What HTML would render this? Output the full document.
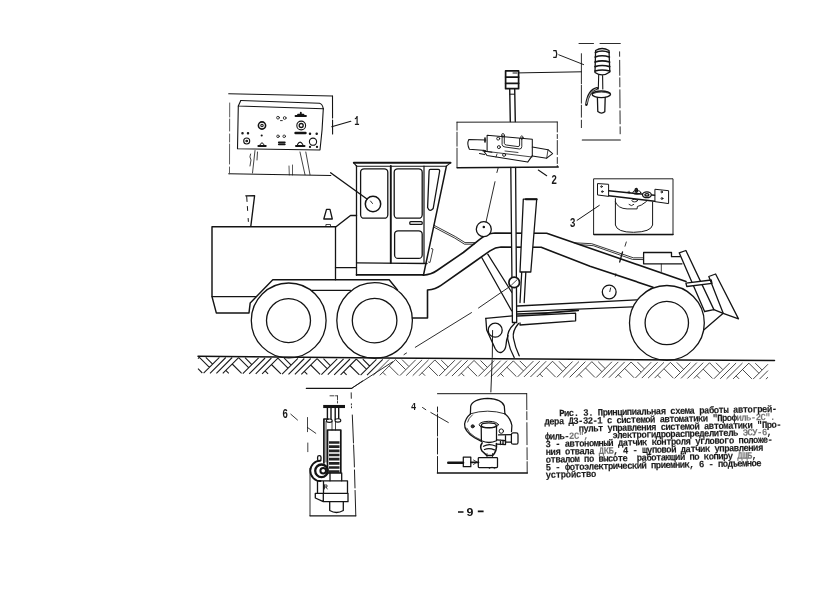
<!DOCTYPE html>
<html><head><meta charset="utf-8">
<style>
html,body{margin:0;padding:0;background:#fff;}
body{width:840px;height:590px;overflow:hidden;position:relative;font-family:"Liberation Mono",monospace;}
svg{position:absolute;left:0;top:0;display:block}
text{font-family:"Liberation Mono",monospace;fill:#1a1a1a;stroke:none}
.lbl{font-family:"Liberation Sans",sans-serif;font-size:10.5px;fill:#111}
</style></head>
<body>
<svg width="840" height="590" viewBox="0 0 840 590" style="will-change:transform">
<g fill="none" stroke="#141414" stroke-width="1.3" stroke-linecap="round" stroke-linejoin="round">

<!-- ===== GROUND ===== -->
<path d="M198 356.3 L330 357.5 L540 359.1 L774.5 360.5" stroke-width="1.5" stroke="#111"/>
<path stroke-width="1.1" stroke="#1c1c1c" stroke-linecap="butt" d="M198.0 358.6 L199.3 357.2 M199.4 357.3 L209.4 367.3 M198.0 368.7 L202.3 373.0 M205.8 357.3 L212.6 364.1 M203.6 373.2 L219.4 357.4 M210.0 373.3 L225.8 357.5 M216.4 373.3 L232.2 357.5 M222.8 373.4 L238.6 357.6 M238.6 357.7 L248.6 367.7 M232.2 364.0 L241.6 373.4 M225.8 370.4 L228.8 373.4 M245.0 357.7 L251.8 364.6 M242.8 373.7 L258.6 357.9 M249.2 373.8 L265.1 358.0 M255.7 373.8 L271.4 358.0 M262.1 373.9 L277.9 358.1 M277.9 358.2 L287.9 368.2 M271.4 364.5 L280.9 373.9 M265.1 370.8 L268.1 373.8 M284.2 358.2 L291.1 365.1 M282.1 374.2 L297.9 358.4 M288.5 374.3 L304.3 358.5 M294.9 374.3 L310.7 358.5 M301.3 374.4 L317.1 358.6 M317.1 358.7 L327.1 368.7 M310.7 365.0 L320.1 374.4 M304.3 371.3 L307.3 374.3 M323.5 358.7 L330.3 365.6 M321.4 374.7 L337.2 358.9 M327.8 374.7 L343.6 358.9 M334.2 374.8 L350.0 359.0 M340.6 374.8 L356.4 359.0 M356.4 359.1 L366.4 369.2 M349.9 365.5 L359.4 374.9 M343.6 371.8 L346.6 374.8 M362.8 359.2 L369.6 366.0 M360.6 375.1 L376.4 359.3 M367.0 375.2 L382.8 359.4"/>
<path stroke-width="0.85" stroke="#2a2a2a" stroke-linecap="butt" d="M373.4 375.2 L389.2 359.4 M379.8 375.3 L395.6 359.5 M395.6 359.6 L405.6 369.6 M389.2 365.9 L398.6 375.3 M382.8 372.3 L385.8 375.3 M402.0 359.6 L408.8 366.4 M399.9 375.6 L415.7 359.8 M406.2 375.6 L422.1 359.8 M412.7 375.7 L428.5 359.9 M419.1 375.7 L434.9 359.9 M434.9 360.0 L444.9 370.0 M428.4 366.4 L437.9 375.8 M422.1 372.7 L425.1 375.7 M441.2 360.1 L448.1 366.9 M439.1 376.0 L454.9 360.2 M445.5 376.1 L461.3 360.3 M451.9 376.1 L467.7 360.3 M458.3 376.2 L474.1 360.4 M474.1 360.5 L484.1 370.5 M467.7 366.8 L477.1 376.2 M461.3 373.1 L464.3 376.1 M480.5 360.5 L487.3 367.3 M478.4 376.4 L494.2 360.6 M484.8 376.5 L500.6 360.7 M491.2 376.5 L507.0 360.7 M497.6 376.6 L513.4 360.8 M513.4 360.9 L523.4 370.9 M506.9 367.2 L516.4 376.6 M500.6 373.6 L503.6 376.6 M519.8 360.9 L526.6 367.7 M517.6 376.9 L533.4 361.1 M524.0 376.9 L539.8 361.1 M530.4 377.0 L546.2 361.2 M536.8 377.0 L552.6 361.2 M552.6 361.3 L562.6 371.3 M546.2 367.7 L555.6 377.1 M539.8 374.0 L542.8 377.0 M559.0 361.3 L565.8 368.1 M556.9 377.3 L572.6 361.5 M563.2 377.3 L579.0 361.5 M569.6 377.4 L585.4 361.6 M576.1 377.4 L591.9 361.6 M591.9 361.7 L601.9 371.7 M585.5 368.0 L594.9 377.4 M579.1 374.4 L582.1 377.4 M598.2 361.7 L605.1 368.5 M596.1 377.6 L611.9 361.8 M602.5 377.7 L618.3 361.9 M608.9 377.7 L624.7 361.9 M615.3 377.8 L631.1 362.0 M631.1 362.0 L641.1 372.1 M624.7 368.4 L634.1 377.8 M618.3 374.7 L621.3 377.7 M637.5 362.1 L644.3 368.9 M635.4 378.0 L651.2 362.2 M641.8 378.1 L657.6 362.3 M648.1 378.1 L664.0 362.3 M654.6 378.1 L670.4 362.3 M670.4 362.4 L680.4 372.4 M664.0 368.8 L673.4 378.2 M657.6 375.1 L660.6 378.1 M676.8 362.4 L683.6 369.3 M674.6 378.4 L690.4 362.6 M681.0 378.4 L696.8 362.6 M687.4 378.5 L703.2 362.7 M693.8 378.5 L709.6 362.7 M709.6 362.8 L719.6 372.8 M703.2 369.1 L712.6 378.5 M696.8 375.5 L699.8 378.5 M716.0 362.8 L722.8 369.6 M713.9 378.8 L729.7 363.0 M720.2 378.8 L736.1 363.0 M726.6 378.8 L742.5 363.0 M733.1 378.9 L748.9 363.1 M748.9 363.2 L758.9 373.2 M742.5 369.5 L751.9 378.9 M736.1 375.9 L739.1 378.9 M755.3 363.2 L762.1 370.0 M753.1 379.1 L768.0 364.2 M759.5 379.1 L768.0 370.6 M765.9 379.2 L768.0 377.1"/>

<!-- ===== WHEELS ===== -->
<circle cx="288.7" cy="320.4" r="37.4"/><circle cx="288.5" cy="320.6" r="22"/>
<circle cx="374.6" cy="320.5" r="37.8"/><circle cx="374.6" cy="320.6" r="22.3"/>
<circle cx="666.9" cy="322.9" r="37.4"/><circle cx="666.8" cy="323" r="21.7"/>

<!-- ===== ENGINE HOOD ===== -->
<path stroke-width="1.45" d="M356.5 215.5 L350.5 215.5 L336 226.8 L212 226.8 L212 296.6 L216.3 312.9 L249 312.9 L250.2 302.9 L272.8 279.8 L389.2 279.8 L397.5 290"/>
<path d="M212 296.6 L256 296.6"/>
<path d="M335.5 226.8 L335.5 279.8"/>
<path d="M335.5 267.7 L356.5 267.7"/>
<path d="M311.6 290.3 L350.5 290.3"/>
<!-- exhaust -->
<path d="M245.8 195.8 L254.6 195.7 L250.8 226.3" stroke-width="1.35"/><path d="M246.7 196.5 L248.4 222" stroke-dasharray="5 5 4 8 3 20" stroke-width="1"/>
<!-- cone -->
<path d="M326.5 209.3 L330 209.3 L332.3 219 L323.8 219 Z"/>
<path d="M326.3 224.5 L330.5 224.5 L330.5 226.5 L326.3 226.5Z" stroke-width="0.8"/>

<!-- ===== CABIN ===== -->
<path d="M353.8 162.8 L450.5 162.8" stroke-width="2"/><path d="M353.8 162.8 L356.5 166.2 L446.4 166.2 L450.5 162.8" stroke-width="1.1"/>
<path d="M356.5 165.7 L356.5 275.3"/>
<path d="M446.4 166.2 L423.5 275" stroke-width="1.5"/>
<path d="M356.5 262.9 L427 263.5"/>
<path d="M356.5 274.8 L423.5 274.8" stroke-width="1.7"/>
<path d="M390.8 166 L390.8 263" stroke-width="1.9"/>
<path d="M424 166 L424 263" stroke-width="1.2"/>
<rect x="360.6" y="168.8" width="27.2" height="49.4" rx="3.5"/>
<rect x="394.2" y="168.8" width="28" height="49.4" rx="3.5"/>
<rect x="394.6" y="230.8" width="27.6" height="27.6" rx="3.5"/>
<rect x="409.8" y="221.6" width="12.4" height="2.8" rx="1"/>
<path d="M430.3 169.4 Q429.2 169.4 429.1 171 L427.6 207.5 Q429.5 212.6 433.2 208.5 L439.6 171.5 Q439.8 169.4 438.3 169.4 Z"/>
<path d="M431.4 248.6 L433 249 L430 262.5 L428.5 262" stroke-width="0.8"/>
<circle cx="373" cy="204" r="7.7" stroke-width="1.5"/>
<path d="M370.5 201 L372.5 203.5" stroke-width="0.9"/>
<!-- pointer from box 1 -->
<path d="M330.6 172.8 L367 199" stroke-width="1.4"/>

<!-- ===== FRAME ARCH ===== -->
<path stroke-width="1.6" d="M423.3 275.2 Q431 274.6 437 270.5 L463.3 252.5 L480 239.2 Q487 233.2 495 233 L546.7 233.2 L686 281.5"/>
<path stroke-width="1.6" d="M412.5 318 L427.5 318 L427.5 290 Q436 289 441 285.3 L470 265 L490 250.8 Q495.5 247.2 501 247 L541.2 247.2 Q566 257 590 266.2 L653 287.2"/>
<!-- hydraulic lines from cabin -->
<path d="M434 225.3 L455.4 236.6 L465 242.6 L475.5 242.6 M433.4 226.9 L454.6 238 L464.5 244.2 L474 244.2" stroke-width="0.85"/>
<!-- strut -->
<path d="M481.7 257.5 L511.6 310.8 M487.8 254.2 L511.9 292.5"/>
<!-- pole -->
<path d="M510.8 167.5 L512.4 322.5 L516.7 322.5 L515.6 167.5" fill="#fff"/>
<path d="M509.7 89 L510.3 121.5 M514.7 89 L515.3 121.5" stroke-width="1.4"/>
<rect x="505.6" y="70.9" width="13" height="17.8" stroke-width="1.7"/>
<path d="M505.7 77.1 L518.6 77.1 M505.7 83.3 L518.6 83.3" stroke-width="1.8"/><path d="M513 73 L517 73" stroke-width="1"/><path d="M509.8 94.2 L514.6 94.2" stroke-width="1"/>
<!-- cylinder -->
<path d="M523.3 199.2 L536.7 199.2 L530.8 272 L520 272 Z" fill="#fff"/>
<path d="M525.8 199.2 L536.7 199.2" stroke-width="2"/>
<path d="M521.7 272.5 L520 302.5 M525.8 272.5 L524.2 302.5"/>
<!-- circles -->
<circle cx="483.8" cy="229.2" r="7.5" fill="#fff"/>
<circle cx="483.8" cy="227" r="0.6" fill="#111"/>
<circle cx="514.2" cy="282.4" r="5.3" fill="#fff" stroke-width="1.7"/>
<path d="M511.5 285 L517 279.8" stroke-width="0.8"/>
<circle cx="609.2" cy="292" r="6.9"/>
<path d="M610.6 288 L609.8 291.6" stroke-width="0.9"/>
<!-- dashed leaders -->
<path d="M498.3 167.5 L496.9 172.5 M495 181.7 L486 222" stroke-width="0.9"/>
<path d="M351.7 388.3 L392.7 361.8 M404 354.6 L406.5 353 M415.3 347.3 L471.5 312.6 M478.5 308 L510 286.4" stroke-width="0.9"/>
<path d="M351.7 388.3 L362.5 381" stroke-width="0.9"/>
<path d="M626.3 242 L625 246.2 M615.8 273.7 L615.3 276.2" stroke-width="0.85"/><path d="M622.5 252 L619.7 262" stroke-width="1.3"/>

<!-- ===== DRAWBAR / BLADE ===== -->
<path d="M517.5 306 L636.7 299.9 M517.5 311.6 L632.5 306.8"/>
<path d="M517.5 314 Q548 313.6 578.3 310.3" stroke-width="1.7"/>
<path d="M517.5 316 L575.6 313.2 L575.6 320.8 L520 325 L520 323"/>
<path d="M485.8 318.3 L512.5 315.8"/>
<path d="M485.8 318.3 L486.7 330 L495 348.3 Q498 353.5 501.5 352.3 Q505.5 350.5 506 345 Q506.3 340 508 335.5"/>
<path d="M514.6 323.5 Q506.5 331 507.7 339 Q509.5 349 514.2 357.5"/>
<path d="M518.5 323.5 Q512.2 331 513.4 338 Q515 347 519.2 355.8"/>
<circle cx="495.2" cy="330.2" r="7"/>
<path d="M492.6 330.5 L492.3 356 L490.8 393.7" stroke-width="0.95" stroke-dasharray="27 2.5 32 3"/>

<!-- right hydraulic lines & box -->
<path d="M574.2 242.8 L591.7 243.7 L633.3 257.8 L643.5 257.8 M580 244.6 L593.3 245.7 L632.5 259.4 L643.5 259.6" stroke-width="0.85"/>
<path d="M643.6 252.5 L671.5 252.5 L671.5 256.7 L680 256.7 M643.6 252.5 L643.6 263.8 L682 263.8"/>
<path d="M661.3 264 L661.3 271.5" stroke-width="0.8"/>
<!-- front post -->
<path d="M679.2 252.8 L685.9 250.5 L713.9 309.6 M679.2 252.8 L704.6 311.5"/>
<!-- crossbar -->
<path d="M685.9 283.1 L711.2 280 L712 283.4 L686.8 286.5 Z" fill="#fff"/>
<!-- front blade -->
<path d="M708.8 276.5 L715.6 274 L738.5 318.9 L723.2 313.3 Z"/>
<path d="M704.6 311.5 L713.9 309.6 L723.2 313.3 L704.3 329.5"/>

<!-- ===== BOX 1 (control panel) ===== -->
<g stroke-width="1.1">
<path d="M228.7 93.8 L332.5 96"/>
<path d="M332.5 96 L332.6 136.5" stroke-dasharray="22 2 14 3"/>
<path d="M228.7 173.8 L330.8 175.5"/>
<path d="M229.7 103 L229.5 173.8" stroke-dasharray="14 2 12 3 8 2 20 3 14 3" stroke-width="0.9" stroke="#4a4a4a"/>
<path d="M331.7 126.7 L350.8 121.3"/>
<path d="M240.8 100.5 L319.5 103.3 Q322.5 104 323.3 108.8"/>
<path d="M240.8 100.5 L238.3 106 L323.3 108.8"/>
<path d="M238.3 106 L237.5 148.8 L320 150 Q322.5 130 323.3 108.8"/>
<!-- panel controls -->
<circle cx="262" cy="125.5" r="3.6" stroke-width="1.6"/><circle cx="262" cy="125.5" r="1.2"/>
<circle cx="301.2" cy="125.5" r="4.4"/><circle cx="301.2" cy="125.5" r="2" stroke-width="1.3"/>
<circle cx="278" cy="117.7" r="1.4" stroke-width="0.8"/><circle cx="284.7" cy="118" r="1.4" stroke-width="0.8"/>
<path d="M280.5 120.6 L282.3 120.6" stroke-width="0.9"/>
<path d="M295.5 116 L306 116 M298 114.6 L303.5 114.6 M300.8 112.6 L300.8 114" stroke-width="1.8"/>
<path d="M295.5 133 L305.5 133" stroke-width="2.4"/>
<circle cx="242.5" cy="133.3" r="0.7"/><circle cx="248" cy="133.3" r="0.7"/>
<circle cx="246.7" cy="141" r="3"/><circle cx="246.7" cy="141" r="0.8"/>
<circle cx="261.7" cy="135.5" r="0.5"/>
<path d="M258.3 146 L265.8 146" stroke-width="1.8"/><path d="M260 144.8 Q262 140.5 264 144.8" stroke-width="1"/>
<circle cx="278" cy="136.3" r="1.3" stroke-width="0.8"/><circle cx="284.2" cy="136.3" r="1.3" stroke-width="0.8"/>
<path d="M278.8 142.3 L284.8 142.3 M278.8 144.3 L284.8 144.3" stroke-width="1.8"/>
<path d="M296 146 L304.5 146" stroke-width="2"/><path d="M297.5 144.6 Q300 139.6 302.8 144.6" stroke-width="1.1"/>
<circle cx="310" cy="133.8" r="0.7"/><circle cx="316.7" cy="133.8" r="0.7"/>
<circle cx="313" cy="141.7" r="3.6"/>
<circle cx="310" cy="146.9" r="0.6"/><circle cx="317" cy="146.9" r="0.6"/>
<!-- cables -->
<path d="M255 150.5 L252.5 173 M257.5 152 L257 160 M250.5 154 Q249 157 251 160 L250 166" stroke-width="0.8"/>
<path d="M292.5 165 L292.5 175 M289 166 L289.3 175" stroke-width="0.7"/>
<path d="M300 152 L305 174.7 M305.8 152 L310 174.7" stroke-width="0.8"/>

</g>
<!-- ===== BOX 2 ===== -->
<g stroke-width="1.05">
<path d="M457 122.2 L557.2 122" stroke-width="0.95"/>
<path d="M457 122.2 L457 167.8" stroke-dasharray="8 2 14 2 20 2" stroke-width="0.9"/>
<path d="M557.3 122 L557.3 166.7" stroke-dasharray="10 2.5 4 2 14 3 6 2" stroke-width="0.9"/>
<path d="M457.2 167.8 L558.3 167" stroke-width="1.4"/>
<path d="M538.3 170 L546.7 175.8"/>
<!-- distributor -->
<path d="M485.8 140.1 L468.8 139.6 Q466.6 144 469.4 149.3 L485.5 150.4"/>
<path d="M487.1 135.3 L532.3 139.2 L532.3 155.6 M487.1 135.3 L487.1 151"/>
<path d="M485 138 L485 142" stroke-width="1.6"/>
<path d="M532.3 147.1 L548 149.7 L552.6 153.6 L546.7 158.2 L532.3 156"/>
<path d="M548 149.7 L546.7 158.2" stroke-width="0.8"/>
<path d="M483.2 150.4 L487 155.5 L527.7 162.1 L532.3 155.6 M479.5 153.5 L484.5 154.6 M483 151 L492 152.2"/>
<path d="M502.1 135.3 L502.1 144.5 Q502.5 146.8 505 147 L519.5 149 Q521.8 149 521.8 146.5 L521.8 137.9" stroke-width="0.9"/>
<path d="M504.3 136 L504.3 143.3 Q504.6 144.8 506.3 145 L518 146.6 Q519.6 146.6 519.6 145 L519.6 138.5" stroke-width="0.9"/>
<circle cx="498.2" cy="138.6" r="1.5" stroke-width="0.9"/><circle cx="498.9" cy="147.1" r="1.5" stroke-width="0.9"/><circle cx="504.1" cy="154.9" r="1.5" stroke-width="0.9"/>
<ellipse cx="503" cy="135.3" rx="1.4" ry="1.8" stroke-width="0.8"/><ellipse cx="521.8" cy="137.6" rx="1.2" ry="1.8" stroke-width="0.8"/>
<path d="M487.5 151.5 L532 157 M505 151 L518 152.5 M496 157 L497 154" stroke-width="0.8"/>

</g>
<!-- ===== BOX 5 ===== -->
<path d="M579 43.5 L593.5 43.5 M600 43.5 L620.3 43.5" stroke-width="0.9"/>
<path d="M581.4 53.7 L581.4 127.6" stroke-dasharray="30 1.5 18 2 12 3" stroke-width="0.9"/>
<path d="M619.6 51.8 L620.2 136.5" stroke-dasharray="4.5 4 15 2.5 9 3 18 3 13 3 7 4" stroke-width="0.9"/>
<path d="M582.3 140 L620.3 140" stroke-width="1.15"/>
<path d="M518.6 72.9 L581.4 71.8" stroke-width="1"/>
<path d="M558.8 54.8 L583.6 64.6" stroke-width="0.95"/>
<!-- sensor head -->
<path d="M595.6 50.5 Q602 46.5 609 50.5 L609.8 72 Q602.5 77.5 595 72.5 Z"/>
<path d="M595.4 52.5 Q602 49.5 609.2 52.5 M595.2 57 Q602 54.5 609.4 57 M595 62 Q602 59.7 609.6 62 M595 66.6 Q602 64.4 609.7 66.6 M595 71 Q602 69 609.8 71" stroke-width="1.7"/>
<path d="M598.7 75 L598.3 89 M602.6 75.5 L602.8 89" stroke-width="1.1"/>
<path d="M597 88.4 Q588.5 90 586.4 104.6" stroke-width="2.6"/><path d="M596.5 88.6 Q589 90.5 586.6 103.5" stroke-width="0.7" stroke="#fff"/>
<ellipse cx="601.3" cy="94.3" rx="9.2" ry="3.3" stroke-width="1.4" fill="#fff"/>
<path d="M593 93.5 Q601 90.5 610 93.5" stroke-width="0.8"/>
<path d="M597.4 97.5 L597.8 111.5 Q601.5 114.5 604.8 111.8 L605.2 97.3"/>

<!-- ===== BOX 3 ===== -->
<g stroke-width="1">
<rect x="594" y="178.8" width="79" height="55.8" stroke-width="0.95"/>
<path d="M594 234.6 L673 234.6" stroke-width="1.5"/>
<path d="M577.1 220.3 L599.3 205.4"/>
<path d="M597.9 183.6 L608.6 184.3 L608.6 196.4 L597.9 195 Z"/>
<circle cx="601.5" cy="186.6" r="0.8"/><circle cx="602.3" cy="191.6" r="0.8"/>
<path d="M608.8 190.8 L654.6 195.3 M608.8 195.8 L654.6 201.2" stroke-width="1.45"/>
<path d="M655.3 189.3 L668.6 190.7 L668.6 203.6 L655.3 201.7 Z"/>
<circle cx="661.7" cy="192" r="0.8"/><circle cx="662" cy="198.5" r="0.9"/>
<ellipse cx="636.3" cy="190.3" rx="1.3" ry="2" stroke-width="1.3" fill="#333"/><ellipse cx="636.8" cy="192.4" rx="4" ry="1.9" stroke-width="0.9"/>
<path d="M628 192 L630.2 192.6 M629.1 191.2 L629.1 193.4" stroke-width="0.8"/>
<ellipse cx="646.9" cy="194.8" rx="4.4" ry="2.9" stroke-width="1.3" fill="#fff"/><ellipse cx="646.9" cy="194.8" rx="2" ry="1.2" stroke-width="1.4"/>
<path d="M615.4 198.6 L615.4 225 Q617 232.3 633.5 232.3 Q651 232 652.6 225 L652.6 202"/>
<path d="M615.4 202 Q618 208.6 627.1 208.9 L637.1 208.9 L637.4 206.5 L641.4 205 L646.4 201.5" stroke-width="0.95"/>
<path d="M629 204.5 Q631.5 207 633.8 204.5" stroke-width="0.9"/>
<ellipse cx="634.7" cy="200.6" rx="2.8" ry="1.3" stroke-width="0.9"/>

</g>
<!-- ===== BOX 6 ===== -->
<path d="M306.3 388.3 L351.7 388.3" stroke-width="1.2"/>
<path d="M351.2 392.8 L351.3 398.3 M351.4 403.8 L351.4 404.9 M351.5 406.8 L351.5 407.8" stroke-width="0.9"/><path d="M352.3 415 L354.2 460 L355.8 515.8" stroke-dasharray="28 2 22 3 18 2.5 30 2" stroke-width="0.95"/>
<path d="M307.5 417.5 L307.5 431.7 M307.8 443 L307.8 451.7" stroke-width="0.8"/>
<path d="M310 468.3 L310 515.8" stroke-width="0.9"/>
<path d="M310 515.8 L355.8 515.8" stroke-width="1.2"/>
<path d="M290.8 414.2 L297.5 420 M307.5 427.5 L315.8 433.3" stroke-width="0.85"/>
<!-- jack -->
<path d="M323.2 406.5 L345 406.5" stroke-width="3.1" stroke-linecap="butt"/>
<path d="M330 395.8 L337.5 395.8 M337.5 396 L337.5 403" stroke-width="0.8" stroke-dasharray="4 1.5"/>
<path d="M327.4 408 L327.4 419.5 M331 408 L331 419.5 M335.2 408 L335.2 419.5 M338.7 408 L338.7 419.5" stroke-width="1.4"/>
<ellipse cx="329.3" cy="420.7" rx="2.9" ry="1.7" stroke-width="1.1" fill="#fff"/><ellipse cx="337.9" cy="420.4" rx="2.9" ry="1.7" stroke-width="1.1" fill="#fff"/>
<path d="M328 419 L323.9 419 L323.9 463" stroke-width="1.7"/>
<path d="M326 421.5 L326 462" stroke-width="0.8"/>
<path d="M332 421.5 L332 430 M335.5 421.5 L335.5 430" stroke-width="0.8"/>
<rect x="327.5" y="430" width="13.3" height="43" stroke-width="1.7"/>
<path d="M329 442.5 L339.5 442.5 M329 446.7 L339.5 446.7 M329 450.8 L339.5 450.8 M329 455.0 L339.5 455.0 M329 459.2 L339.5 459.2 M329 463.4 L339.5 463.4 M329 467.5 L339.5 467.5 M329 471.7 L339.5 471.7" stroke-width="2.7" stroke="#222" stroke-linecap="butt"/>
<path d="M320.5 460.6 A10.2 10.2 0 0 0 320.5 481" stroke-width="1.8"/>
<circle cx="321.5" cy="470.8" r="6.3" stroke-width="2.3"/>
<circle cx="323.2" cy="470.8" r="2.8" stroke-width="2"/>
<rect x="317.6" y="455.6" width="3.4" height="5.2" rx="1.6" stroke-width="1.3"/>
<path d="M330 473 L330 480.8 M341.7 473 L341.7 480.8"/>
<path d="M317.5 480.8 L347.5 480.8 L347.5 493.3 M317.5 480.8 L317.5 493.3 M323.5 482 L323.5 493.3"/>
<path d="M315.3 493.3 L348 493.3 L348 501.7 L323.3 501.7 L315.3 498 Z M323.3 493.3 L323.3 501.7"/>
<path d="M329.7 501.7 L329.7 510.5 Q336.5 514.5 343.3 510.5 L343.3 501.7"/>
<path d="M324.5 485 L324.5 489 M324.5 485 L327 485 L327 487 L324.5 487 M326 487 L327.3 489" stroke-width="0.8"/>

<!-- ===== BOX 4 ===== -->
<g stroke-width="1.25">
<path d="M437.5 393.7 L526.7 393.7" stroke-width="1"/>
<path d="M437.5 407 L437.5 473" stroke-dasharray="5 2 22 2 16 2.5 30 2" stroke-width="0.95"/>
<path d="M526.7 393.7 L527.2 473" stroke-dasharray="16 2 8 3 22 3 12 2" stroke-width="0.9"/>
<path d="M437.5 473 L527.2 473" stroke-width="1.6"/>
<path d="M422.5 407.5 L425.8 409.7 M430.8 412.5 L448.3 422.5" stroke-width="0.9"/>
<!-- sensor -->
<path d="M470.4 413.8 L470.7 406.1 Q472.5 399.2 487.6 398.3 Q502.5 399.2 504.3 406.1 L504.9 413.8"/>
<path d="M470.4 413.8 Q487.6 408.4 504.9 413.8" stroke-width="0.9"/>
<path d="M470.4 414 Q465.6 418 464.6 424 Q464 431 474.5 437.8 L481.5 441.4 M504.9 413.8 Q510.6 418.5 511.9 425.5 L511.5 431.5"/>
<path d="M466.8 428.2 Q468.5 433 475 437 L481 440 M472.5 414.8 Q468.5 418 467.6 422" stroke-width="0.8"/>
<ellipse cx="488.8" cy="424.7" rx="9.6" ry="3.4" stroke-width="1"/>
<ellipse cx="488.8" cy="425.2" rx="7.4" ry="2.3" stroke-width="1.1"/>
<path d="M481.2 425.5 L481.4 440.8 Q489 444.2 496.5 440.8 L496.5 425.5"/>
<circle cx="472.7" cy="426.3" r="1.6" fill="#333" stroke-width="0.8"/>
<circle cx="501.3" cy="431.1" r="2.2" stroke-width="1"/>
<path d="M498.5 434.9 L511.4 434.6 M505.5 442 L511.4 442 M505.5 434.8 L505.5 442"/>
<rect x="511.4" y="432.9" width="6.6" height="11.3" rx="1.8"/>
<path d="M497 439.8 L505.5 440.6 L505.5 444.6 L497 444.2 M500.5 440.2 L500.5 444.6 M503 440.4 L503 444.6" stroke-width="1.3"/>
<path d="M482.2 442.8 Q479.3 447 482 451 L487 455.6 L492.5 455.6 Q497.3 451 496.4 443.5" stroke-width="1.5"/>
<path d="M483.5 446.2 Q489 443 495.5 446 M484.5 449.5 Q489 447.5 494.5 449.8" stroke-width="1.3"/>
<path d="M487 453.5 L487 457.5 M492.5 453.5 L492.5 457.5" stroke-width="0.8"/>
<rect x="478.3" y="457.5" width="19.2" height="10" rx="0.8"/>
<path d="M488 467.5 Q489 470 491 467.5 M493 467.5 Q494.5 470 496 467.5" stroke-width="0.8"/>
<rect x="463.3" y="457" width="7.5" height="9.7"/>
<path d="M448.3 462.8 L463 462.8" stroke-width="2.6"/>
<path d="M471 462.3 L478.5 462.3" stroke-width="1.8"/>
<path d="M473.5 460 L477 462 L473.5 464.5" stroke-width="0.8"/>
</g>
</g>

<!-- ===== LABELS ===== -->
<g class="lbl" style="font-weight:bold;font-size:12px">
<text transform="translate(354.3 125) scale(0.72 1)">1</text>
<text transform="translate(551.2 184.3) scale(0.8 1)">2</text>
<text transform="translate(569.8 227.4) scale(0.8 1)">3</text>
<text transform="translate(411 410.1) scale(0.72 0.97)">4</text>
<text transform="translate(282.3 417.5) scale(0.8 1.05)">6</text>
</g>
<path d="M553.2 50.6 L556 50.6 Q557.5 54 556 57.4 L553.2 57.4" fill="none" stroke="#1a1a1a" stroke-width="1.3"/>
<!-- page number -->
<g stroke="#111" stroke-width="1.6" fill="none"><path d="M458 512 L463.5 512 M477.8 511.4 L483.6 511.4"/></g>
<text transform="translate(466.6 515.7) scale(1.18 1.02)" style="font-family:'Liberation Sans',sans-serif;font-weight:bold;font-size:10.5px;fill:#111">9</text>

<!-- ===== CAPTION ===== -->
<g style="font-size:9px" fill="#222">
<text transform="translate(559.2 416.3) rotate(-1.15) scale(1 1.08)" textLength="218.0" lengthAdjust="spacing" font-weight="bold" style="stroke:#222;stroke-width:0.12" xml:space="preserve">Рис. 3. Принципиальная схема работы автогрей-</text>
<text transform="translate(544.5 424.6) rotate(-1.15) scale(1 1.08)" textLength="231.0" lengthAdjust="spacing" font-weight="bold" style="stroke:#222;stroke-width:0.12" xml:space="preserve">дера ДЗ-32-1 с системой автоматики &quot;Проф<tspan style="fill-opacity:0.6;stroke-opacity:0.3">иль-2С&quot;.</tspan></text>
<text transform="translate(578.7 431.7) rotate(-1.15) scale(1 1.08)" textLength="203.1" lengthAdjust="spacing" font-weight="bold" style="stroke:#222;stroke-width:0.12" xml:space="preserve">пульт управления системой автоматики &quot;Про-</text>
<text transform="translate(545.0 439.6) rotate(-1.15) scale(1 1.08)" textLength="227.2" lengthAdjust="spacing" font-weight="bold" style="stroke:#222;stroke-width:0.12" xml:space="preserve">филь-<tspan style="fill-opacity:0.6;stroke-opacity:0.3">2С&quot;,</tspan>     электрогидрораспределитель <tspan style="fill-opacity:0.6;stroke-opacity:0.3">ЭСУ-6</tspan>,</text>
<text transform="translate(545.5 447.2) rotate(-1.15) scale(1 1.08)" textLength="227.5" lengthAdjust="spacing" font-weight="bold" style="stroke:#222;stroke-width:0.12" xml:space="preserve">3 - автономный датчик контроля углового положе-</text>
<text transform="translate(545.8 455.0) rotate(-1.15) scale(1 1.08)" textLength="217.6" lengthAdjust="spacing" font-weight="bold" style="stroke:#222;stroke-width:0.12" xml:space="preserve">ния отвала <tspan style="fill-opacity:0.6;stroke-opacity:0.3">ДКБ</tspan>, 4 - щуповой датчик управления</text>
<text transform="translate(545.8 462.7) rotate(-1.15) scale(1 1.08)" textLength="211.4" lengthAdjust="spacing" font-weight="bold" style="stroke:#222;stroke-width:0.12" xml:space="preserve">отвалом по высоте  работающий по копиру <tspan style="fill-opacity:0.6;stroke-opacity:0.3">ДЩБ</tspan>,</text>
<text transform="translate(545.8 470.4) rotate(-1.15) scale(1 1.08)" textLength="216.0" lengthAdjust="spacing" font-weight="bold" style="stroke:#222;stroke-width:0.12" xml:space="preserve">5 - фотоэлектрический приемник, 6 - подъемное</text>
<text transform="translate(545.8 477.9) rotate(-1.15) scale(1 1.08)" textLength="50.6" lengthAdjust="spacing" font-weight="bold" style="stroke:#222;stroke-width:0.12" xml:space="preserve">устройство</text>
</g>
</svg>
</body></html>
